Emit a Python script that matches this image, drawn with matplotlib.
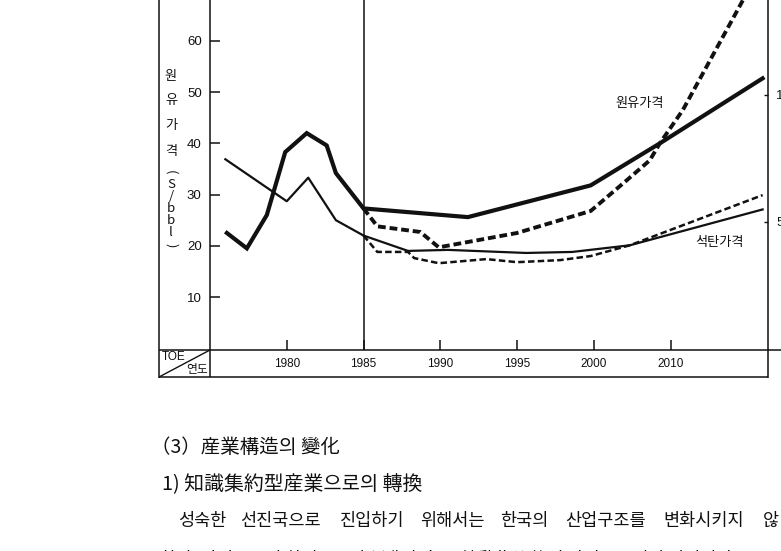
"""
plot.py
Scanned report page: crude / coal price outlook chart plus the text below it.
"""

import numpy as np
import matplotlib
matplotlib.use("Agg")
import matplotlib.pyplot as plt
from matplotlib.lines import Line2D


# ─────────────────────────────────────────────
# Data
# ─────────────────────────────────────────────

OIL_YEARS = [1976.1, 1977.4, 1978.7, 1979.9, 1981.3, 1982.6, 1983.2, 1985, 1991.8, 1999.8, 2008.6, 2022]
OIL_PRICE = [22.5, 19.5, 26.0, 38.3, 42.0, 39.6, 34.2, 27.3, 25.6, 31.8, 40.0, 52.7]

COAL_YEARS = [1976, 1980, 1981.4, 1983.2, 1985, 1987.9, 1990.5, 1995.6, 1998.6, 2004.7, 2022]
COAL_PRICE = [36.9, 28.7, 33.3, 25.0, 22.0, 19.0, 19.2, 18.6, 18.8, 20.1, 27.1]

OIL_HIGH_YEARS = [1985, 1985.9, 1988.7, 1989.9, 1995, 1999.8, 2004.3, 2007.3, 2008.6, 2011.6, 2022]
OIL_HIGH_PRICE = [27.3, 23.8, 22.7, 19.7, 22.5, 26.8, 32.8, 36.7, 40.0, 46.5, 75.0]

COAL_LOW_YEARS = [1985, 1985.9, 1987.9, 1988.3, 1989.9, 1993, 1995, 1997.8, 1999.8, 2004.7, 2022]
COAL_LOW_PRICE = [22.0, 18.8, 18.8, 17.6, 16.6, 17.4, 16.8, 17.2, 18.0, 20.1, 29.9]

X_TICKS = [1980, 1985, 1990, 1995, 2000, 2010]
Y_TICKS = [10, 20, 30, 40, 50, 60]
RIGHT_TICKS = [50, 100]

Y_LABEL_CHARS = ["원", "유", "가", "격", "(", "S", "/", "b", "b", "l", ")"]

HEADING_1 = "（3）産業構造의 變化"
HEADING_2 = "1) 知識集約型産業으로의 轉換"
BODY_1 = ["성숙한", "선진국으로", "진입하기", "위해서는", "한국의", "산업구조를", "변화시키지", "않"]
BODY_2 = "한다. 산업구조의 하위구조와 變化方向을 勞動集約的인 산업구조에서 지식집약"


# ─────────────────────────────────────────────
# Config
# ─────────────────────────────────────────────

W, H = 781, 551
INK = "#111111"
KO = ["Noto Sans CJK KR", "DejaVu Sans"]
NUM = ["Liberation Sans", "DejaVu Sans"]


def fx(x):
    return x / W


def fy(y):
    return 1 - y / H


# x axis is 5 years per step up to 2000, then 10 years per step
def year_to_pos(x):
    x = np.asarray(x, dtype=float)
    return np.where(x <= 2000, (x - 1980) / 5.0, 4 + (x - 2000) / 10.0)


def pos_to_year(p):
    p = np.asarray(p, dtype=float)
    return np.where(p <= 4, 1980 + 5 * p, 2000 + 10 * (p - 4))


def fig_line(fig, x0, y0, x1, y1, lw=1.0):
    fig.add_artist(Line2D([fx(x0), fx(x1)], [fy(y0), fy(y1)], transform=fig.transFigure,
                          color=INK, lw=lw, solid_capstyle="butt"))


# ─────────────────────────────────────────────
# Chart
# ─────────────────────────────────────────────

def draw_chart(fig):
    ax = fig.add_axes([fx(210), fy(350), fx(768) - fx(210), fy(0) - fy(350)])
    ax.set_xscale("function", functions=(year_to_pos, pos_to_year))
    ax.set_xlim(1975, 2022.7)
    ax.set_ylim(-0.35, 68.0)

    ax.plot(OIL_YEARS, OIL_PRICE, color=INK, lw=3.0, solid_joinstyle="miter")
    ax.plot(COAL_YEARS, COAL_PRICE, color=INK, lw=1.6)
    ax.plot(OIL_HIGH_YEARS, OIL_HIGH_PRICE, color=INK, lw=2.8, dashes=(2.0, 1.0))
    ax.plot(COAL_LOW_YEARS, COAL_LOW_PRICE, color=INK, lw=1.8, dashes=(2.6, 1.3))
    ax.axvline(1985, color=INK, lw=1.1)

    ax.set_xticks(X_TICKS)
    ax.set_xticklabels([str(t) for t in X_TICKS], family=NUM, fontsize=8.5, color=INK)
    ax.xaxis.set_minor_locator(plt.NullLocator())
    ax.set_yticks(Y_TICKS)
    ax.set_yticklabels([str(t) for t in Y_TICKS], family=NUM, fontsize=9.5, color=INK)
    ax.tick_params(axis="both", direction="in", length=7, width=1.1, color=INK)
    ax.tick_params(axis="x", pad=6)
    ax.tick_params(axis="y", pad=6)

    for side in ["left", "right", "bottom"]:
        ax.spines[side].set_linewidth(1.1)
        ax.spines[side].set_color(INK)
    ax.spines["top"].set_visible(False)

    ax.text(2006.0, 47.8, "원유가격", family=KO, fontsize=9.5, color=INK, ha="center", va="center")
    ax.text(2016.4, 20.7, "석탄가격", family=KO, fontsize=9.5, color=INK, ha="center", va="center")
    ax.text(2003.5, 68.9, "LNG공급가격", family=KO, fontsize=9.5, color=INK, ha="center", va="center")

    # right hand scale, mostly cut off by the page edge
    ax2 = ax.twinx()
    ax2.set_ylim(-0.4, 137.4)
    ax2.set_yticks(RIGHT_TICKS)
    ax2.set_yticklabels([str(t) for t in RIGHT_TICKS], family=NUM, fontsize=9.5, color=INK)
    ax2.tick_params(axis="y", direction="in", length=3, width=1.0, pad=6, color=INK)
    for side in ax2.spines:
        ax2.spines[side].set_visible(False)

    return ax


def draw_frame(fig):
    fig_line(fig, 159, 0, 159, 378, lw=1.1)
    fig_line(fig, 159, 377, 768, 377, lw=1.1)
    fig_line(fig, 159, 350, 210, 350, lw=1.1)
    fig_line(fig, 768, 350, 781, 350, lw=1.1)
    fig_line(fig, 210, 350, 210, 377, lw=1.1)
    fig_line(fig, 768, 350, 768, 378, lw=1.1)
    fig_line(fig, 159, 377, 210, 350, lw=1.0)

    fig.text(fx(162), fy(357), "TOE", family=NUM, fontsize=8.5, color=INK, ha="left", va="center")
    fig.text(fx(208), fy(370), "연도", family=KO, fontsize=8.5, color=INK, ha="right", va="center")

    y_pos = [76, 100, 126, 151, 172, 184, 196, 208, 220, 232, 245]
    for ch, y in zip(Y_LABEL_CHARS, y_pos):
        rot = -90 if ch in "()" else 0
        fig.text(fx(171), fy(y), ch, family=KO, fontsize=9.5, color=INK, ha="center", va="center",
                 rotation=rot)


# ─────────────────────────────────────────────
# Text below the chart
# ─────────────────────────────────────────────

def draw_body(fig):
    fig.text(fx(151), fy(447), HEADING_1, family=KO, fontsize=14, color=INK,
             ha="left", va="center")
    fig.text(fx(162), fy(485), HEADING_2, family=KO, fontsize=14.3, color=INK,
             ha="left", va="center")

    word_x = [178, 240, 340, 420, 500, 565, 663, 763]
    for word, x in zip(BODY_1, word_x):
        fig.text(fx(x), fy(521), word, family=KO, fontsize=12.6, color=INK,
                 ha="left", va="center")

    fig.text(fx(160), fy(559), BODY_2, family=KO, fontsize=12.6, color=INK,
             ha="left", va="center")


# ─────────────────────────────────────────────
# Main
# ─────────────────────────────────────────────

def main():
    fig = plt.figure(figsize=(W / 100, H / 100), dpi=100, facecolor="white")
    draw_chart(fig)
    draw_frame(fig)
    draw_body(fig)
    fig.savefig("out.png", dpi=100, facecolor="white")
    plt.close(fig)


if __name__ == "__main__":
    main()
